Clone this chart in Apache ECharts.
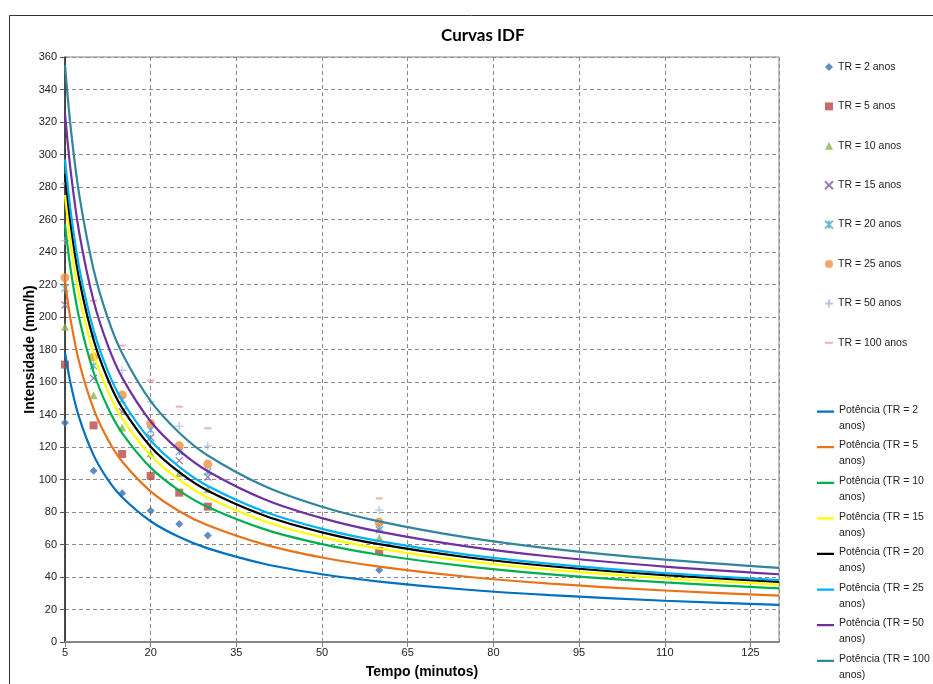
<!DOCTYPE html>
<html>
<head>
<meta charset="utf-8">
<title>Curvas IDF</title>
<script src="https://cdn.jsdelivr.net/npm/echarts@6.0.0/dist/echarts.min.js"></script>
<style>
  html, body { margin: 0; padding: 0; background: #fff; }
  #chart { width: 933px; height: 684px; }
</style>
</head>
<body>
<div id="chart"></div>
<script>
// observed points (minutes -> mm/h)
const tempos = [5, 10, 15, 20, 25, 30, 60]
const tr2 = [135, 105.4, 91.5, 80.8, 72.6, 65.6, 44.3]
const tr5 = [170.7, 133.3, 115.7, 102.2, 91.9, 83.3, 56]
const tr10 = [194, 151.8, 132, 116, 104, 94, 64.2]
const tr15 = [207.4, 162.3, 141.7, 125.8, 111.6, 101.5, 69]
const tr20 = [217.6, 170, 149, 130.5, 117.1, 104.8, 70.5]
const tr25 = [224.2, 175.4, 152, 134.4, 120.8, 109.5, 73.8]
const tr50 = [247, 188, 167.2, 147.9, 132.9, 120.6, 81.2]
const tr100 = [282, 210, 182.4, 160.9, 144.8, 131.5, 88.4]

// power trendlines
const tCurva = [5, 6, 7.5, 10, 12.5, 15, 20, 25, 30, 40, 50, 60, 75, 90, 110, 130]
const pot2 = [178, 158.7, 137.9, 115, 99.9, 89.1, 74.3, 64.6, 57.6, 48, 41.7, 37.2, 32.3, 28.8, 25.4, 22.9]
const pot5 = [222, 197.9, 172, 143.4, 124.6, 111.1, 92.7, 80.5, 71.8, 59.9, 52, 46.4, 40.3, 35.9, 31.7, 28.5]
const pot10 = [257, 229.1, 199.1, 166, 144.3, 128.6, 107.3, 93.2, 83.1, 69.3, 60.2, 53.7, 46.7, 41.6, 36.7, 33]
const pot15 = [275, 245.2, 213, 177.7, 154.4, 137.6, 114.8, 99.8, 88.9, 74.2, 64.5, 57.5, 49.9, 44.5, 39.2, 35.3]
const pot20 = [288, 256.8, 223.1, 186, 161.7, 144.1, 120.2, 104.5, 93.1, 77.7, 67.5, 60.2, 52.3, 46.6, 41.1, 37]
const pot25 = [297, 264.8, 230.1, 191.9, 166.7, 148.6, 124, 107.8, 96, 80.1, 69.6, 62.1, 53.9, 48.1, 42.4, 38.1]
const pot50 = [325, 289.7, 251.7, 210, 182.5, 162.7, 135.7, 117.9, 105.1, 87.7, 76.2, 67.9, 59, 52.6, 46.4, 41.7]
const pot100 = [355, 316.5, 275, 229.3, 199.3, 177.7, 148.2, 128.8, 114.8, 95.8, 83.2, 74.2, 64.5, 57.5, 50.7, 45.6]

const nomesTR = ['2', '5', '10', '15', '20', '25', '50', '100']
const pontos = [tr2, tr5, tr10, tr15, tr20, tr25, tr50, tr100]
const curvas = [pot2, pot5, pot10, pot15, pot20, pot25, pot50, pot100]

// x axis starts at 5 min, ticks every 15 -> shift so min is 0
const X0 = 5

const X_PATH = 'path://M0,0L10,10M10,0L0,10'
const STAR_PATH = 'path://M0,0L10,10M10,0L0,10M5,0L5,10'
const PLUS_PATH = 'path://M5,0L5,10M0,5L10,5'

const estiloPontos = [
  { symbol: 'diamond', size: 8, color: '#3F6FB0' },
  { symbol: 'rect', size: 8, color: '#B94A48' },
  { symbol: 'triangle', size: 8, color: '#8FB34E' },
  { symbol: X_PATH, size: 7, color: '#7D60A0', stroke: true },
  { symbol: STAR_PATH, size: 7, color: '#46AAC5', stroke: true },
  { symbol: 'circle', size: 9, color: '#F0903F' },
  { symbol: PLUS_PATH, size: 8, color: '#A5B9DC', stroke: true },
  { symbol: 'rect', size: [7, 2], color: '#E39E9C' },
]
const coresCurvas = ['#0070C0', '#E8731A', '#00B050', '#FFFF00', '#000000', '#00B0F0', '#7030A0', '#31859C']

const chart = echarts.init(document.getElementById('chart'))

const series = []
const legendPontos = []
const legendCurvas = []

pontos.forEach((vals, i) => {
  const st = estiloPontos[i]
  const name = 'TR = ' + nomesTR[i] + ' anos'
  legendPontos.push({ name: name, icon: st.symbol === 'rect' && Array.isArray(st.size) ? 'path://M0,4H8V6H0Z' : undefined })
  series.push({
    name: name,
    type: 'scatter',
    z: 2,
    symbol: st.symbol,
    symbolSize: st.size,
    itemStyle: st.stroke
      ? { color: 'transparent', borderColor: st.color, borderWidth: 1.3 }
      : { color: st.color },
    data: tempos.map((t, j) => [t - X0, vals[j]]),
  })
})

curvas.forEach((vals, i) => {
  const name = 'Potência (TR = ' + nomesTR[i] + ' anos)'
  legendCurvas.push({ name: name, icon: 'path://M0,0H18V2.4H0Z M0,15.9H0.01V16H0Z' })
  series.push({
    name: name,
    type: 'line',
    z: 3,
    smooth: 0.3,
    showSymbol: false,
    symbol: 'none',
    lineStyle: { color: coresCurvas[i], width: 2.2 },
    itemStyle: { color: coresCurvas[i] },
    data: tCurva.map((t, j) => [t - X0, vals[j]]),
  })
})

const fonte = 'Liberation Sans, Arial, sans-serif'

chart.setOption({
  animation: false,
  title: {
    text: 'Curvas IDF',
    left: 436,
    top: 22,
    textStyle: { fontFamily: 'Lato, sans-serif', fontSize: 17, fontWeight: 'bold', color: '#000' },
  },
  graphic: [
    {
      type: 'rect',
      shape: { x: 9.5, y: 15.5, width: 1000, height: 1000 },
      style: { fill: 'none', stroke: '#333', lineWidth: 1 },
      silent: true,
    },
  ],
  grid: {
    left: 65,
    right: 154,
    top: 57,
    bottom: 42,
    show: true,
    borderColor: '#868686',
    borderWidth: 1,
  },
  legend: [
    {
      data: legendPontos,
      orient: 'vertical',
      left: 819,
      top: 55,
      itemWidth: 8,
      itemHeight: 8,
      itemGap: 25.4,
      selectedMode: false,
      textStyle: { fontFamily: fonte, fontSize: 10.5, color: '#222', lineHeight: 14 },
    },
    {
      data: legendCurvas,
      orient: 'vertical',
      left: 817,
      top: 402,
      height: 300,
      padding: 0,
      itemWidth: 17,
      itemHeight: 16,
      itemGap: 3.6,
      selectedMode: false,
      formatter: name => name.replace(/ anos\)$/, '\nanos)'),
      textStyle: { fontFamily: fonte, fontSize: 10.5, color: '#222', lineHeight: 16 },
    },
  ],
  xAxis: {
    type: 'value',
    min: 0,
    max: 125,
    interval: 15,
    name: 'Tempo (minutos)',
    nameLocation: 'middle',
    nameGap: 23,
    nameTextStyle: { fontFamily: fonte, fontSize: 14, fontWeight: 'bold', color: '#000' },
    axisLine: { show: true, lineStyle: { color: '#868686', width: 2 } },
    axisTick: { show: true, length: 5, lineStyle: { color: '#868686' } },
    axisLabel: {
      formatter: v => String(v + X0),
      showMaxLabel: false,
      fontFamily: fonte,
      fontSize: 11,
      color: '#222',
      margin: 5,
    },
    splitLine: { show: true, lineStyle: { type: [4, 3], color: '#8c8c8c' } },
  },
  yAxis: {
    type: 'value',
    min: 0,
    max: 360,
    interval: 20,
    name: 'Intensidade (mm/h)',
    nameLocation: 'middle',
    nameGap: 28,
    nameMoveOverlap: false,
    nameTextStyle: { fontFamily: fonte, fontSize: 14, fontWeight: 'bold', color: '#000' },
    axisLine: { show: true, lineStyle: { color: '#222', width: 1.5 } },
    axisTick: { show: true, length: 5, lineStyle: { color: '#555' } },
    axisLabel: { fontFamily: fonte, fontSize: 11, color: '#222', margin: 8 },
    splitLine: { show: true, lineStyle: { type: [4, 3], color: '#8c8c8c' } },
  },
  series: series,
})
</script>
</body>
</html>
